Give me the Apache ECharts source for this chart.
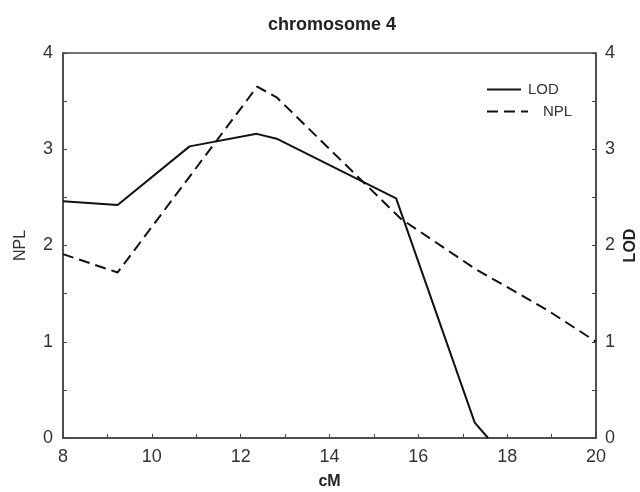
<!DOCTYPE html>
<html><head><meta charset="utf-8">
<script src="https://cdn.jsdelivr.net/npm/echarts@6/dist/echarts.min.js"></script>
<style>html,body{margin:0;padding:0;background:#fff}#c{width:640px;height:492px}</style>
</head><body><div id="c"></div>
<script>
var lodX = [8, 9.23, 10.85, 12.36, 12.81, 15.5, 17.27, 17.57];
var lodY = [2.46, 2.42, 3.03, 3.16, 3.11, 2.49, 0.16, 0];
var nplX = [8, 9.23, 12.37, 12.81, 15.6, 17.27, 18.9, 20];
var nplY = [1.91, 1.72, 3.65, 3.54, 2.28, 1.76, 1.33, 1.0];
var xTicks = [8, 10, 12, 14, 16, 18, 20];
var yTicks = [0, 1, 2, 3, 4];

function pairs(xs, ys){ return xs.map(function(x,i){return [x, ys[i]];}); }
var font = 'Liberation Sans, Arial, sans-serif';
var axisCol = '#444';
var chart = echarts.init(document.getElementById('c'));
chart.setOption({
  animation: false,
  backgroundColor: '#fff',
  title: {text: 'chromosome 4', left: 263, top: 11,
    textStyle: {fontFamily: font, fontSize: 18, fontWeight: 'bold', color: '#222'}},
  grid: {left: 63, right: 44, top: 53, bottom: 54, containLabel: false, outerBoundsMode: 'none',
    show: true, borderColor: axisCol, borderWidth: 1.5, backgroundColor: 'transparent'},
  legend: [
    {data: ['LOD'], left: 481, top: 77, itemWidth: 34, itemHeight: 14, itemGap: 0,
     itemStyle: {opacity: 0},
     textStyle: {fontFamily: font, fontSize: 15, color: '#333', padding: [0,0,0,2]}},
    {data: ['NPL'], left: 481, top: 99, itemWidth: 41, itemHeight: 14, itemGap: 0,
     itemStyle: {opacity: 0},
     textStyle: {fontFamily: font, fontSize: 15, color: '#333', padding: [0,0,0,10]}}
  ],
  xAxis: {type: 'value', min: 8, max: 20, interval: 1,
    name: 'cM', nameLocation: 'middle', nameGap: 36,
    nameTextStyle: {fontFamily: font, fontSize: 16, fontWeight: 'bold', color: '#222'},
    axisLine: {show: true, lineStyle: {color: axisCol, width: 1.5}},
    axisTick: {show: true, inside: true, length: 4, lineStyle: {color: axisCol}},
    axisLabel: {margin: 10, fontFamily: font, fontSize: 18, color: '#333',
      formatter: function(v){ return xTicks.indexOf(v) >= 0 ? String(v) : ''; }},
    splitLine: {show: false}},
  yAxis: [
    {type: 'value', min: 0, max: 4, interval: 0.5, position: 'left',
     name: 'NPL', nameLocation: 'middle', nameGap: 34, nameRotate: 90, nameMoveOverlap: false,
     nameTextStyle: {fontFamily: font, fontSize: 16, color: '#333'},
     axisLine: {show: true, lineStyle: {color: axisCol, width: 1.5}},
     axisTick: {show: true, inside: true, length: 4, lineStyle: {color: axisCol}},
     axisLabel: {margin: 10, fontFamily: font, fontSize: 18, color: '#333',
       formatter: function(v){ return yTicks.indexOf(v) >= 0 ? String(v) : ''; }},
     splitLine: {show: false}},
    {type: 'value', min: 0, max: 4, interval: 0.5, position: 'right',
     name: 'LOD', nameLocation: 'middle', nameGap: 27, nameRotate: 90, nameMoveOverlap: false,
     nameTextStyle: {fontFamily: font, fontSize: 16, fontWeight: 'bold', color: '#222'},
     axisLine: {show: true, lineStyle: {color: axisCol, width: 1.5}},
     axisTick: {show: true, inside: true, length: 4, lineStyle: {color: axisCol}},
     axisLabel: {margin: 9, fontFamily: font, fontSize: 18, color: '#333',
       formatter: function(v){ return yTicks.indexOf(v) >= 0 ? String(v) : ''; }},
     splitLine: {show: false}}
  ],
  series: [
    {name: 'LOD', type: 'line', yAxisIndex: 1, data: pairs(lodX, lodY), symbol: 'none',
     lineStyle: {color: '#111', width: 2, type: 'solid'}, itemStyle: {color: '#111'}},
    {name: 'NPL', type: 'line', yAxisIndex: 0, data: pairs(nplX, nplY), symbol: 'none',
     lineStyle: {color: '#111', width: 2, type: [11, 6]}, itemStyle: {color: '#111'}}
  ]
});
</script></body></html>
